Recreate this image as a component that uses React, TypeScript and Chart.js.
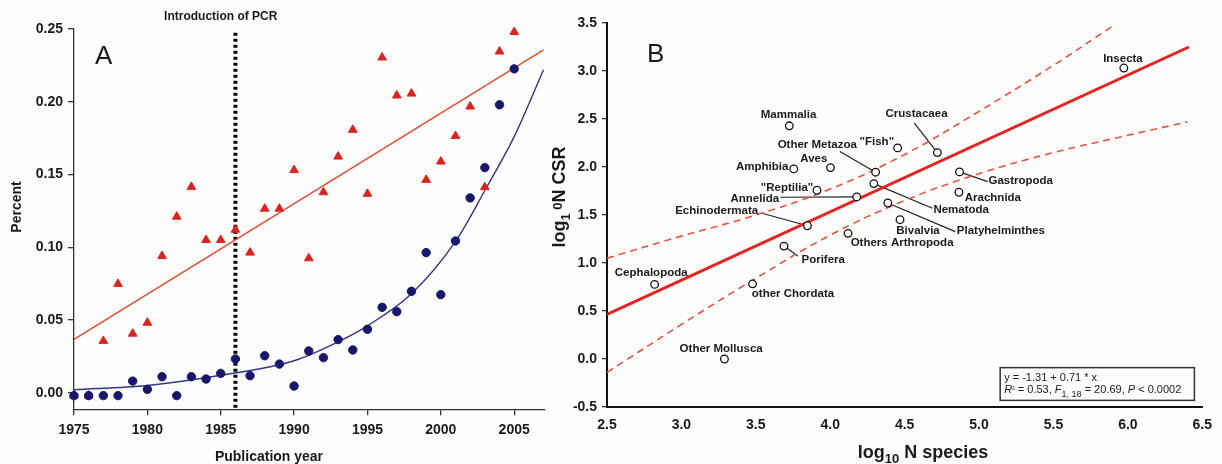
import React, { useEffect, useRef } from 'react';
import { Chart, registerables } from 'chart.js';
Chart.register(...registerables);

const FONT = 'Arial, "Liberation Sans", Helvetica, sans-serif';

// ---------------- Panel A data ----------------
const years = [1975, 1976, 1977, 1978, 1979, 1980, 1981, 1982, 1983, 1984, 1985, 1986, 1987, 1988, 1989, 1990,
  1991, 1992, 1993, 1994, 1995, 1996, 1997, 1998, 1999, 2000, 2001, 2002, 2003, 2004, 2005];
const triangleValues = [-0.002, -0.002, 0.0356, 0.0748, 0.0406, 0.0481, 0.094, 0.121, 0.1415, 0.105, 0.105, 0.112,
  0.0963, 0.1265, 0.1265, 0.153, 0.0924, 0.1378, 0.1623, 0.1807, 0.1367, 0.2304, 0.2043, 0.2056, 0.1463, 0.1589,
  0.1765, 0.1967, 0.1413, 0.2345, 0.2479];
const circleValues = [-0.002, -0.002, -0.002, -0.002, 0.008, 0.0023, 0.011, -0.002, 0.011, 0.0094, 0.0133, 0.0232,
  0.0117, 0.0254, 0.0197, 0.0046, 0.0287, 0.0241, 0.0365, 0.0294, 0.0436, 0.0587, 0.0557, 0.0697, 0.0963, 0.0674,
  0.1043, 0.1339, 0.1547, 0.1979, 0.2226];
const linearFitYears = [1975, 2007];
const linearFitValues = [0.0367, 0.2357];
const expCurveYears = [1975, 1980, 1985, 1990, 1993, 1995, 1998, 2001, 2003, 2005, 2007];
const expCurveValues = [0.002, 0.005, 0.012, 0.022, 0.035, 0.046, 0.068, 0.104, 0.139, 0.176, 0.222];
const pcrYear = 1986;
const pcrLineTopValue = 0.2474;
const xTicksA = [1975, 1980, 1985, 1990, 1995, 2000, 2005];
const yTicksA = [0, 0.05, 0.1, 0.15, 0.2, 0.25];

// ---------------- Panel B data ----------------
const taxa = ['Mammalia', '"Fish"', 'Crustacaea', 'Other Metazoa', 'Aves', 'Amphibia', '"Reptilia"', 'Annelida',
  'Nematoda', 'Platyhelminthes', 'Bivalvia', 'Others Arthropoda', 'Echinodermata', 'Porifera', 'Cephalopoda',
  'other Chordata', 'Other Mollusca', 'Gastropoda', 'Arachnida', 'Insecta'];
const logSpecies = [3.725, 4.453, 4.72, 4.305, 4.002, 3.755, 3.911, 4.178, 4.293, 4.387, 4.469, 4.12, 3.847, 3.689,
  2.82, 3.478, 3.289, 4.869, 4.865, 5.973];
const logCSR = [2.429, 2.199, 2.15, 1.946, 1.994, 1.98, 1.758, 1.688, 1.827, 1.625, 1.451, 1.309, 1.388, 1.176,
  0.777, 0.783, 0.0, 1.949, 1.737, 3.031];
const labelX = [3.72, 4.313, 4.58, 3.913, 3.89, 3.543, 3.71, 3.493, 4.88, 5.147, 4.59, 4.483, 3.237, 3.953, 2.797,
  3.75, 3.267, 5.28, 5.093, 5.967];
const labelY = [2.544, 2.265, 2.554, 2.231, 2.085, 2.004, 1.779, 1.667, 1.552, 1.333, 1.333, 1.215, 1.545, 1.03,
  0.898, 0.675, 0.109, 1.852, 1.677, 3.128];
const leaderX: (number | null)[] = [null, null, 4.565, 4.065, null, null, null, 3.665, 4.687, 4.84, null, null, 3.542,
  3.782, null, null, null, 5.058, null, null];
const leaderY: (number | null)[] = [null, null, 2.457, 2.161, null, null, null, 1.685, 1.57, 1.327, null, null, 1.518,
  1.072, null, null, null, 1.848, null, null];
const regressionX = [2.5, 6.41];
const regressionY = [0.465, 3.25];
const upperBandX = [2.5, 3.0, 3.5, 4.0, 4.5, 5.0, 5.5, 5.9];
const upperBandY = [1.05, 1.28, 1.5, 1.77, 2.13, 2.58, 3.06, 3.47];
const lowerBandX = [2.5, 3.0, 3.5, 4.0, 4.5, 5.0, 5.5, 6.0, 6.4];
const lowerBandY = [-0.14, 0.36, 0.84, 1.29, 1.65, 1.93, 2.15, 2.33, 2.47];
const xTicksB = [2.5, 3.0, 3.5, 4.0, 4.5, 5.0, 5.5, 6.0, 6.5];
const yTicksB = [-0.5, 0.0, 0.5, 1.0, 1.5, 2.0, 2.5, 3.0, 3.5];

const zip = (xs: number[], ys: number[]) => xs.map((x, i) => ({ x, y: ys[i] }));

type Run = { text: string; font: string; dy?: number };
function runsWidth(ctx: CanvasRenderingContext2D, runs: Run[]) {
  let w = 0;
  for (const r of runs) { ctx.font = r.font; w += ctx.measureText(r.text).width; }
  return w;
}
function drawRuns(ctx: CanvasRenderingContext2D, runs: Run[], x: number, y: number) {
  let cx = x;
  ctx.textAlign = 'left';
  ctx.textBaseline = 'alphabetic';
  for (const r of runs) {
    ctx.font = r.font;
    ctx.fillText(r.text, cx, y + (r.dy || 0));
    cx += ctx.measureText(r.text).width;
  }
}

const panelAPlugin = {
  id: 'panelA',
  beforeDatasetsDraw(chart: any) {
    const { ctx, scales, chartArea } = chart;
    const px = scales.x.getPixelForValue(pcrYear);
    ctx.save();
    ctx.strokeStyle = '#000';
    ctx.lineWidth = 4;
    ctx.setLineDash([3, 3]);
    ctx.beginPath();
    ctx.moveTo(px, scales.y.getPixelForValue(pcrLineTopValue));
    ctx.lineTo(px, chartArea.bottom);
    ctx.stroke();
    ctx.restore();
  },
  afterDraw(chart: any) {
    const { ctx, scales, chartArea } = chart;
    ctx.save();
    ctx.fillStyle = '#1a1a1a';
    ctx.textAlign = 'center';
    ctx.textBaseline = 'middle';
    ctx.font = `bold 12px ${FONT}`;
    ctx.fillText('Introduction of PCR', scales.x.getPixelForValue(1985), 17);
    ctx.font = `26px ${FONT}`;
    ctx.textAlign = 'left';
    ctx.fillText('A', chartArea.left + 21, 57);
    ctx.font = `bold 14px ${FONT}`;
    ctx.textAlign = 'center';
    ctx.fillText('Publication year', 269, 457);
    ctx.translate(17, 207);
    ctx.rotate(-Math.PI / 2);
    ctx.fillText('Percent', 0, 0);
    ctx.restore();
  },
};

const panelBPlugin = {
  id: 'panelB',
  beforeDatasetsDraw(chart: any) {
    const { ctx, scales } = chart;
    ctx.save();
    ctx.strokeStyle = '#222';
    ctx.lineWidth = 1.2;
    taxa.forEach((_, i) => {
      const lx = leaderX[i];
      const ly = leaderY[i];
      if (lx === null || ly === null) return;
      ctx.beginPath();
      ctx.moveTo(scales.x.getPixelForValue(lx), scales.y.getPixelForValue(ly));
      ctx.lineTo(scales.x.getPixelForValue(logSpecies[i]), scales.y.getPixelForValue(logCSR[i]));
      ctx.stroke();
    });
    ctx.restore();
  },
  afterDraw(chart: any) {
    const { ctx, scales, chartArea } = chart;
    ctx.save();
    ctx.fillStyle = '#1a1a1a';
    ctx.textAlign = 'center';
    ctx.textBaseline = 'middle';
    ctx.font = `bold 11.5px ${FONT}`;
    taxa.forEach((name, i) => {
      ctx.fillText(name, scales.x.getPixelForValue(labelX[i]), scales.y.getPixelForValue(labelY[i]));
    });
    ctx.font = `26px ${FONT}`;
    ctx.textAlign = 'left';
    ctx.fillText('B', chartArea.left + 40, 55);

    // equation box
    const bx = scales.x.getPixelForValue(5.142);
    const by = scales.y.getPixelForValue(-0.09);
    const bw = scales.x.getPixelForValue(6.447) - bx;
    const bh = scales.y.getPixelForValue(-0.431) - by;
    ctx.fillStyle = '#fdfdfd';
    ctx.fillRect(bx, by, bw, bh);
    ctx.strokeStyle = '#333';
    ctx.lineWidth = 1.5;
    ctx.strokeRect(bx, by, bw, bh);
    ctx.fillStyle = '#1a1a1a';
    const f = `11px ${FONT}`;
    const fi = `italic 11px ${FONT}`;
    const fs = `8px ${FONT}`;
    drawRuns(ctx, [{ text: 'y = -1.31 + 0.71 * x', font: f }], bx + 4, by + 13.5);
    drawRuns(ctx, [
      { text: 'R', font: fi }, { text: '²', font: fs, dy: -1 }, { text: ' = 0.53, ', font: f },
      { text: 'F', font: fi }, { text: '1, 18', font: `9px ${FONT}`, dy: 4 }, { text: ' = 20.69, ', font: f },
      { text: 'P', font: fi }, { text: ' < 0.0002', font: f },
    ], bx + 4, by + 25.5);

    // x title
    const bt = `bold 18px ${FONT}`;
    const bsub = `bold 13px ${FONT}`;
    const xRuns: Run[] = [{ text: 'log', font: bt }, { text: '10', font: bsub, dy: 5 }, { text: ' N species', font: bt }];
    const xw = runsWidth(ctx, xRuns);
    drawRuns(ctx, xRuns, 393 - xw / 2, 458);

    // y title
    const yRuns: Run[] = [{ text: 'log', font: bt }, { text: '1', font: bsub, dy: 5 }, { text: ' ', font: bsub },
      { text: '0', font: bsub, dy: -3 }, { text: 'N CSR', font: bt }];
    const yw = runsWidth(ctx, yRuns);
    ctx.translate(29, 197);
    ctx.rotate(-Math.PI / 2);
    drawRuns(ctx, yRuns, -yw / 2, 6);
    ctx.restore();
  },
};

function makeConfigA(): any {
  const tickFont = { family: FONT, size: 14, weight: 'bold' as const };
  return {
    type: 'scatter',
    data: {
      datasets: [
        {
          data: zip(years, circleValues), pointStyle: 'circle', pointRadius: 4.2, pointBackgroundColor: '#17176b',
          pointBorderColor: '#17176b', showLine: false, clip: false,
        },
        {
          data: zip(years, triangleValues), pointStyle: 'triangle', pointRadius: 5, pointBackgroundColor: '#e3211c',
          pointBorderColor: '#e3211c', showLine: false, clip: false,
        },
        {
          data: zip(linearFitYears, linearFitValues), showLine: true, pointRadius: 0, borderColor: '#e8482c',
          borderWidth: 1.4,
        },
        {
          data: zip(expCurveYears, expCurveValues), showLine: true, pointRadius: 0, borderColor: '#34348c',
          borderWidth: 1.4, cubicInterpolationMode: 'monotone',
        },
      ],
    },
    options: {
      responsive: false, animation: false, events: [],
      layout: { padding: { top: 29, right: 15, left: 0, bottom: 0 } },
      plugins: { legend: { display: false }, tooltip: { enabled: false } },
      scales: {
        x: {
          type: 'linear', min: 1975, max: 2007.1,
          afterBuildTicks: (s: any) => { s.ticks = xTicksA.map((v) => ({ value: v })); },
          afterFit: (s: any) => { s.height = 54.7; },
          ticks: { font: tickFont, color: '#1a1a1a', padding: 6, maxRotation: 0, autoSkip: false,
            callback: (v: any) => String(v) },
          grid: { drawOnChartArea: false, drawTicks: true, tickLength: 6, color: '#333', lineWidth: 1.3 },
          border: { display: true, color: '#333', width: 1.3 },
        },
        y: {
          type: 'linear', min: -0.0114, max: 0.25,
          afterBuildTicks: (s: any) => { s.ticks = yTicksA.map((v) => ({ value: v })); },
          afterFit: (s: any) => { s.width = 74; },
          ticks: { font: tickFont, color: '#1a1a1a', padding: 5, autoSkip: false,
            callback: (v: any) => Number(v).toFixed(2) },
          grid: { drawOnChartArea: false, drawTicks: true, tickLength: 6, color: '#333', lineWidth: 1.3 },
          border: { display: true, color: '#333', width: 1.3 },
        },
      },
    },
    plugins: [panelAPlugin],
  };
}

function makeConfigB(): any {
  const tickFont = { family: FONT, size: 14, weight: 'bold' as const };
  return {
    type: 'scatter',
    data: {
      datasets: [
        {
          data: zip(logSpecies, logCSR), pointStyle: 'circle', pointRadius: 3.8, pointBackgroundColor: '#fdfdfd',
          pointBorderColor: '#111', pointBorderWidth: 1.3, showLine: false, clip: false,
        },
        {
          data: zip(regressionX, regressionY), showLine: true, pointRadius: 0, borderColor: '#e8221c',
          borderWidth: 3,
        },
        {
          data: zip(upperBandX, upperBandY), showLine: true, pointRadius: 0, borderColor: '#f0503a',
          borderWidth: 1.6, borderDash: [7, 5], tension: 0.4,
        },
        {
          data: zip(lowerBandX, lowerBandY), showLine: true, pointRadius: 0, borderColor: '#f0503a',
          borderWidth: 1.6, borderDash: [7, 5], tension: 0.4,
        },
      ],
    },
    options: {
      responsive: false, animation: false, events: [],
      layout: { padding: { top: 23, right: 15, left: 0, bottom: 0 } },
      plugins: { legend: { display: false }, tooltip: { enabled: false } },
      scales: {
        x: {
          type: 'linear', min: 2.5, max: 6.5,
          afterBuildTicks: (s: any) => { s.ticks = xTicksB.map((v) => ({ value: v })); },
          afterFit: (s: any) => { s.height = 57; },
          ticks: { font: tickFont, color: '#1a1a1a', padding: 10, maxRotation: 0, autoSkip: false,
            callback: (v: any) => Number(v).toFixed(1) },
          grid: { drawOnChartArea: false, drawTicks: false, tickLength: 0, color: 'rgba(0,0,0,0)' },
          border: { display: true, color: '#111', width: 2 },
        },
        y: {
          type: 'linear', min: -0.5, max: 3.5,
          afterBuildTicks: (s: any) => { s.ticks = yTicksB.map((v) => ({ value: v })); },
          afterFit: (s: any) => { s.width = 77; },
          ticks: { font: tickFont, color: '#1a1a1a', padding: 5, autoSkip: false,
            callback: (v: any) => Number(v).toFixed(1) },
          grid: { drawOnChartArea: false, drawTicks: true, tickLength: 5, color: '#333', lineWidth: 1.3 },
          border: { display: true, color: '#111', width: 2 },
        },
      },
    },
    plugins: [panelBPlugin],
  };
}

export default function App() {
  const refA = useRef<HTMLCanvasElement>(null);
  const refB = useRef<HTMLCanvasElement>(null);
  useEffect(() => {
    const a = new Chart(refA.current as HTMLCanvasElement, makeConfigA());
    const b = new Chart(refB.current as HTMLCanvasElement, makeConfigB());
    return () => { a.destroy(); b.destroy(); };
  }, []);
  return (
    <div style={{ position: 'fixed', left: 0, top: 0, width: 1222, height: 464, background: '#fdfdfd', overflow: 'hidden' }}>
      <canvas ref={refA} width={560} height={464} style={{ position: 'absolute', left: 0, top: 0, width: 560, height: 464 }} />
      <canvas ref={refB} width={692} height={464} style={{ position: 'absolute', left: 530, top: 0, width: 692, height: 464 }} />
    </div>
  );
}
